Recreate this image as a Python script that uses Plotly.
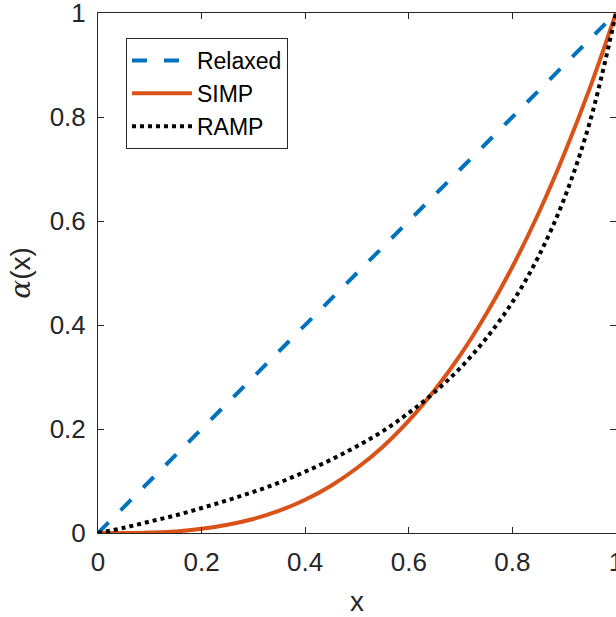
import plotly.graph_objects as go

x_vals = [0.0, 0.05, 0.1, 0.15, 0.2, 0.25, 0.3, 0.35, 0.4, 0.45, 0.5,
          0.55, 0.6, 0.65, 0.7, 0.75, 0.8, 0.85, 0.9, 0.95, 1.0]
relaxed_x = [0.0, 1.0]
relaxed_y = [0.0, 1.0]
simp_y = [0.0, 0.0001, 0.001, 0.003, 0.008, 0.016, 0.027, 0.043, 0.064, 0.091, 0.125,
          0.166, 0.216, 0.275, 0.343, 0.422, 0.512, 0.614, 0.729, 0.857, 1.0]
ramp_y = [0.0, 0.010, 0.022, 0.034, 0.048, 0.063, 0.079, 0.097, 0.118, 0.141, 0.167,
          0.196, 0.231, 0.271, 0.318, 0.375, 0.444, 0.531, 0.643, 0.792, 1.0]
x_ticks = [0, 0.2, 0.4, 0.6, 0.8, 1]
y_ticks = [0, 0.2, 0.4, 0.6, 0.8, 1]
x_tick_text = ["0", "0.2", "0.4", "0.6", "0.8", "1"]
y_tick_text = ["0", "0.2", "0.4", "0.6", "0.8", "1"]

FONT = "Liberation Sans, Arial, Helvetica, sans-serif"
AX = "#262626"

fig = go.Figure()
fig.add_trace(go.Scatter(x=relaxed_x, y=relaxed_y, mode="lines", name="Relaxed",
                         line=dict(color="#0072BD", width=4, dash="15px,17px")))
fig.add_trace(go.Scatter(x=x_vals, y=simp_y, mode="lines", name="SIMP",
                         line=dict(color="#D95319", width=4, shape="spline")))
fig.add_trace(go.Scatter(x=x_vals, y=ramp_y, mode="lines", name="RAMP",
                         line=dict(color="black", width=4, dash="4px,4px", shape="spline")))

axis_common = dict(showgrid=False, zeroline=False, showline=True, linecolor=AX, linewidth=1,
                   mirror="ticks", ticks="inside", ticklen=6, tickcolor=AX, tickwidth=1,
                   ticklabelstandoff=6, automargin=False, ticklabeloverflow="allow",
                   tickfont=dict(family=FONT, size=26, color=AX))

fig.update_xaxes(range=[0, 1], tickvals=x_ticks, ticktext=x_tick_text,
                 title=dict(text="x", font=dict(family=FONT, size=28, color=AX), standoff=16),
                 **axis_common)
fig.update_yaxes(range=[0, 1], tickvals=y_ticks, ticktext=y_tick_text,
                 title=dict(text="<span style=\"font-family:'DejaVu Serif';font-style:italic\">α</span>(x)",
                            font=dict(family=FONT, size=28, color=AX), standoff=10),
                 **axis_common)

fig.update_layout(
    width=616, height=617,
    margin=dict(l=98, r=0, t=13, b=84),
    plot_bgcolor="white", paper_bgcolor="white",
    font=dict(family=FONT, size=26, color=AX),
    legend=dict(x=0.054, y=0.952, xanchor="left", yanchor="top",
                bgcolor="white", bordercolor=AX, borderwidth=1,
                font=dict(family=FONT, size=23, color="black"),
                itemwidth=60, tracegroupgap=0),
    showlegend=True,
)

fig.write_html(
    "out.html",
    config={"displayModeBar": False},
    post_script="document.body.style.margin='0px';document.body.style.overflow='hidden';",
)
